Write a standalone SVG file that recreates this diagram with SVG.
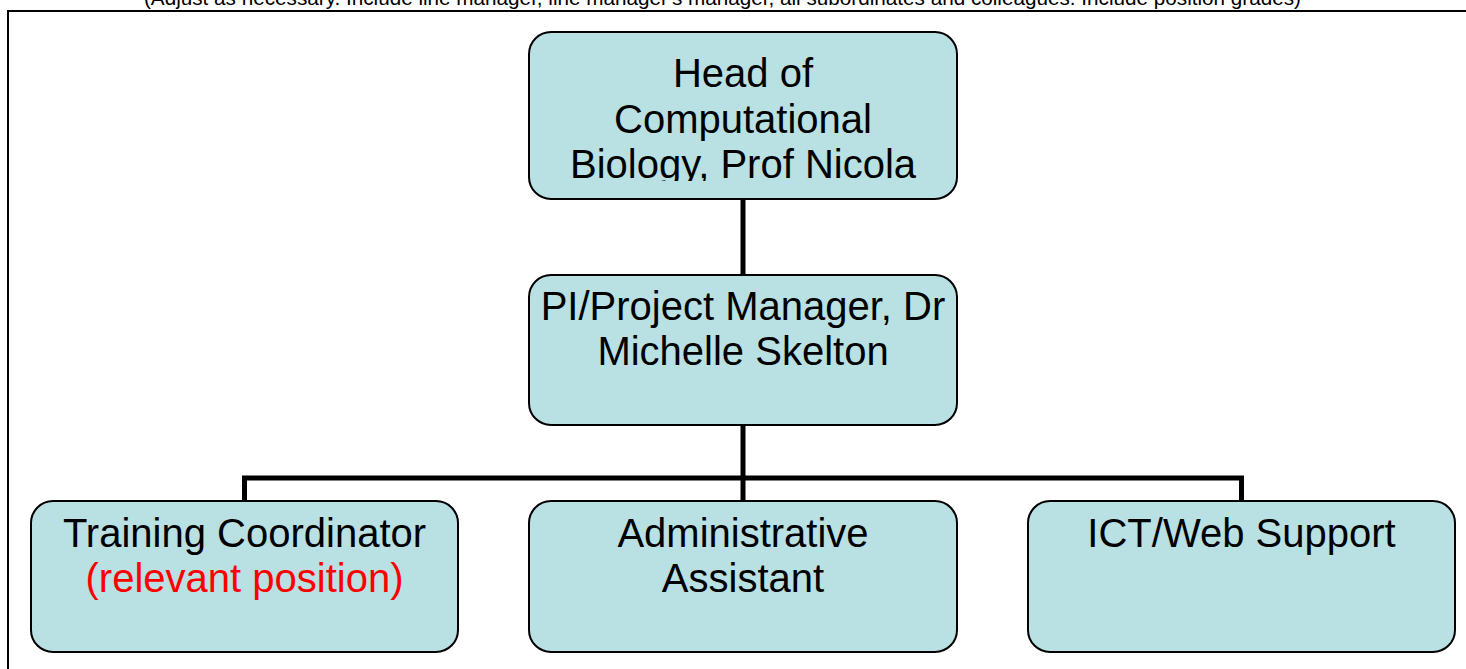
<svg xmlns="http://www.w3.org/2000/svg" width="1466" height="669" viewBox="0 0 1466 669">
  <style>
    .box { fill: #B9E0E3; stroke: #000000; stroke-width: 2; }
    .lbl { font-family: "Liberation Sans", Arial, sans-serif; font-size: 40px; fill: #000000; text-anchor: middle; }
    .red { fill: #FF0000; }
    .conn { stroke: #000000; stroke-width: 5; fill: none; }
    .cap { font-family: "Liberation Sans", Arial, sans-serif; font-size: 20.7px; fill: #000000; text-anchor: middle; }
  </style>
  <defs>
    <clipPath id="clipTop">
      <rect x="529" y="32" width="428" height="149"/>
    </clipPath>
  </defs>
  <rect width="1466" height="669" fill="#FFFFFF"/>
  <text class="cap" x="722.5" y="5">(Adjust as necessary. Include line manager, line manager's manager, all subordinates and colleagues. Include position grades)</text>
  <path d="M8 669 V11 H1470" fill="none" stroke="#000000" stroke-width="2"/>
  <g id="connectors">
    <line class="conn" x1="743" y1="199" x2="743" y2="276"/>
    <line class="conn" x1="743" y1="425" x2="743" y2="502"/>
    <polyline class="conn" points="244.5,502 244.5,478 1241.5,478 1241.5,502"/>
  </g>
  <g id="head">
    <rect class="box" x="529" y="32" width="428" height="167" rx="22"/>
    <g clip-path="url(#clipTop)">
      <text class="lbl" x="743" y="87">Head of</text>
      <text class="lbl" x="743" y="133">Computational</text>
      <text class="lbl" x="743" y="178">Biology, Prof Nicola</text>
    </g>
  </g>
  <g id="pi">
    <rect class="box" x="529" y="275" width="428" height="150" rx="22"/>
    <text class="lbl" x="743" y="320">PI/Project Manager, Dr</text>
    <text class="lbl" x="743" y="365">Michelle Skelton</text>
  </g>
  <g id="training">
    <rect class="box" x="31" y="501" width="427" height="151" rx="22"/>
    <text class="lbl" x="244.5" y="547">Training Coordinator</text>
    <text class="lbl red" x="244.5" y="592">(relevant position)</text>
  </g>
  <g id="admin">
    <rect class="box" x="529" y="501" width="428" height="151" rx="22"/>
    <text class="lbl" x="743" y="547">Administrative</text>
    <text class="lbl" x="743" y="592">Assistant</text>
  </g>
  <g id="ict">
    <rect class="box" x="1028" y="501" width="427" height="151" rx="22"/>
    <text class="lbl" x="1241.5" y="547">ICT/Web Support</text>
  </g>
</svg>
